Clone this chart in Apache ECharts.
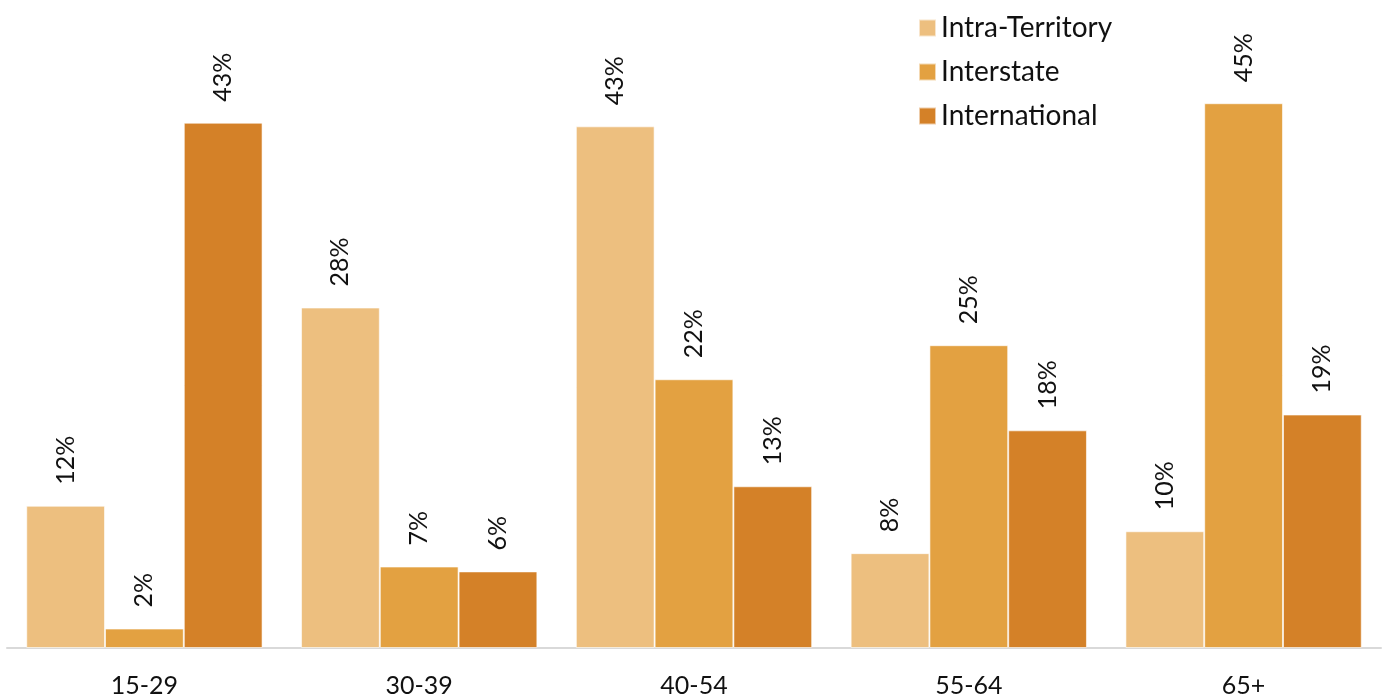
<!DOCTYPE html>
<html>
<head>
<meta charset="utf-8">
<script src="https://cdn.jsdelivr.net/npm/echarts@6/dist/echarts.min.js"></script>
<style>
  html, body { margin: 0; padding: 0; background: #fff; }
  #chart { width: 1384px; height: 698px; }
</style>
</head>
<body>
<div id="chart"></div>
<script>
var categories = ['15-29', '30-39', '40-54', '55-64', '65+'];
var seriesNames = ['Intra-Territory', 'Interstate', 'International'];
var intraTerritory = [11.7, 28.0, 42.9, 7.8, 9.6];
var interstate = [1.6, 6.7, 22.1, 24.9, 44.8];
var international = [43.2, 6.3, 13.3, 17.9, 19.2];
var colors = ['#EDBF7F', '#E3A141', '#D48128'];

var chart = echarts.init(document.getElementById('chart'));
var font = 'Lato, "Open Sans", sans-serif';

function makeSeries(name, data, i) {
  return {
    name: name,
    type: 'bar',
    data: data,
    barGap: '0%',
    barCategoryGap: '14%',
    itemStyle: { color: colors[i], borderColor: 'rgba(255,255,255,0.6)', borderWidth: 1 },
    label: {
      show: true,
      position: 'top',
      rotate: 90,
      align: 'left',
      verticalAlign: 'middle',
      distance: 21,
      fontFamily: font,
      fontSize: 25,
      color: '#111',
      formatter: function (p) { return Math.round(p.value) + '%'; }
    }
  };
}

chart.setOption({
  animation: false,
  color: colors,
  legend: {
    orient: 'vertical',
    left: 913,
    top: 9,
    itemWidth: 17,
    itemHeight: 17,
    itemGap: 16,
    icon: 'rect',
    selectedMode: false,
    textStyle: { fontFamily: font, fontSize: 28, color: '#111' },
    data: seriesNames
  },
  grid: { left: 7, right: 3, top: 40, bottom: 50, containLabel: false },
  xAxis: {
    type: 'category',
    data: categories,
    axisLine: { lineStyle: { color: '#d9d9d9', width: 2 } },
    axisTick: { show: false },
    axisLabel: { fontFamily: font, fontSize: 25, color: '#111', margin: 25 }
  },
  yAxis: {
    type: 'value',
    min: 0,
    max: 50,
    show: false,
    splitLine: { show: false }
  },
  series: [
    makeSeries(seriesNames[0], intraTerritory, 0),
    makeSeries(seriesNames[1], interstate, 1),
    makeSeries(seriesNames[2], international, 2)
  ]
});
</script>
</body>
</html>
